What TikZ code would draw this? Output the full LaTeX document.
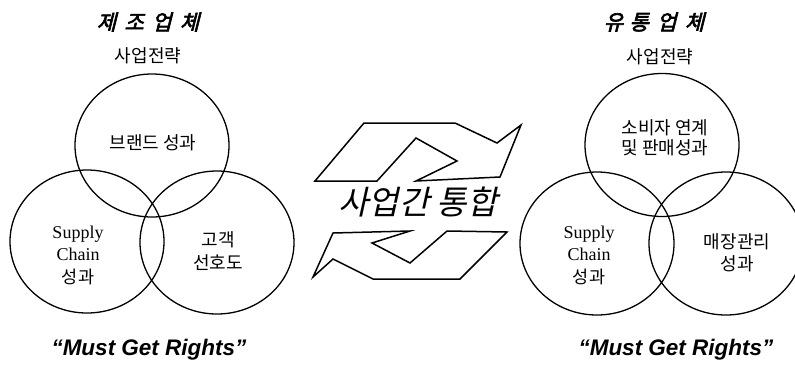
\documentclass[tikz,border=0pt]{standalone}
\usepackage{fontspec}
\setmainfont{Liberation Serif}
\newfontfamily\kr{Noto Sans CJK KR}
\newfontfamily\krtitle[FakeSlant=0.25,FakeBold=3]{Noto Sans CJK KR}
\newfontfamily\krmid[FakeSlant=0.22]{Noto Sans CJK KR}
\newfontfamily\mgrfont{Liberation Sans}
\usetikzlibrary{shapes.geometric}
\begin{document}
\begin{tikzpicture}[x=1pt,y=-1pt,
  venn/.style={draw,ellipse,line width=1.3pt,minimum width=154pt,minimum height=143pt,inner sep=0pt},
  krtxt/.style={font=\kr\fontsize{18}{22}\selectfont,align=center,inner sep=0pt},
  sctxt/.style={font=\fontsize{18}{22.5}\selectfont,align=center,inner sep=0pt},
  ttl/.style={font=\krtitle\fontsize{21}{24}\selectfont,inner sep=0pt},
  mgr/.style={font=\mgrfont\bfseries\itshape\fontsize{22.5}{26}\selectfont,inner sep=0pt},
  arr/.style={draw,line width=1.5pt,line join=miter}]
\useasboundingbox (0,0) rectangle (795,365);

% ---- left group
\node[ttl] (t1) at (148,22) {제\hspace{0.4em}조\hspace{0.4em}업\hspace{0.4em}체};
\node[krtxt] (s1) at (148,56) {사업전략};
\node[venn] (lt) at (152,145.5) {};
\node[venn] (lbl) at (87,241.5) {};
\node[venn] (lbr) at (217,242.5) {};
\node[krtxt] (lt1) at (153,143) {브랜드 성과};
\node[sctxt] (lbl1) at (78,255) {Supply\\Chain\\{\kr\fontsize{17.5}{22.5}\selectfont 성과}};
\node[krtxt,font=\kr\fontsize{18}{23}\selectfont] (lbr1) at (218,251.5) {고객\\선호도};
\node[mgr] (m1) at (149,350) {“Must Get Rights”};

% ---- right group
\node[ttl] (t2) at (654,22) {유\hspace{0.3em}통\hspace{0.4em}업\hspace{0.4em}체};
\node[krtxt] (s2) at (660,57) {사업전략};
\node[venn] (rt) at (662,145) {};
\node[venn] (rbl) at (597,243.5) {};
\node[venn] (rbr) at (726,243.5) {};
\node[krtxt,font=\kr\fontsize{18}{20.5}\selectfont] (rt1) at (665,138) {소비자 연계\\및 판매성과};
\node[sctxt] (rbl1) at (589,255) {Supply\\Chain\\{\kr\fontsize{17.5}{22.5}\selectfont 성과}};
\node[krtxt,font=\kr\fontsize{18}{22}\selectfont] (rbr1) at (737,252.5) {매장관리\\성과};
\node[mgr] (m2) at (676,350) {“Must Get Rights”};

% ---- centre
\node[font=\krmid\fontsize{33}{36}\selectfont,inner sep=0pt] (mid) at (418,202) {사업간 통합};
\draw[arr] (364,123) -- (455,123) -- (497,143) -- (521,125) -- (500,177)
  -- (416,181) -- (457,161) -- (416,138) -- (377,181) -- (315,181) -- cycle;
\draw[arr] (333,233) -- (410,231) -- (372,243) -- (410,263) -- (447,231)
  -- (507,232) -- (460,279) -- (373,279) -- (333,259) -- (313,277) -- cycle;
\end{tikzpicture}
\end{document}
